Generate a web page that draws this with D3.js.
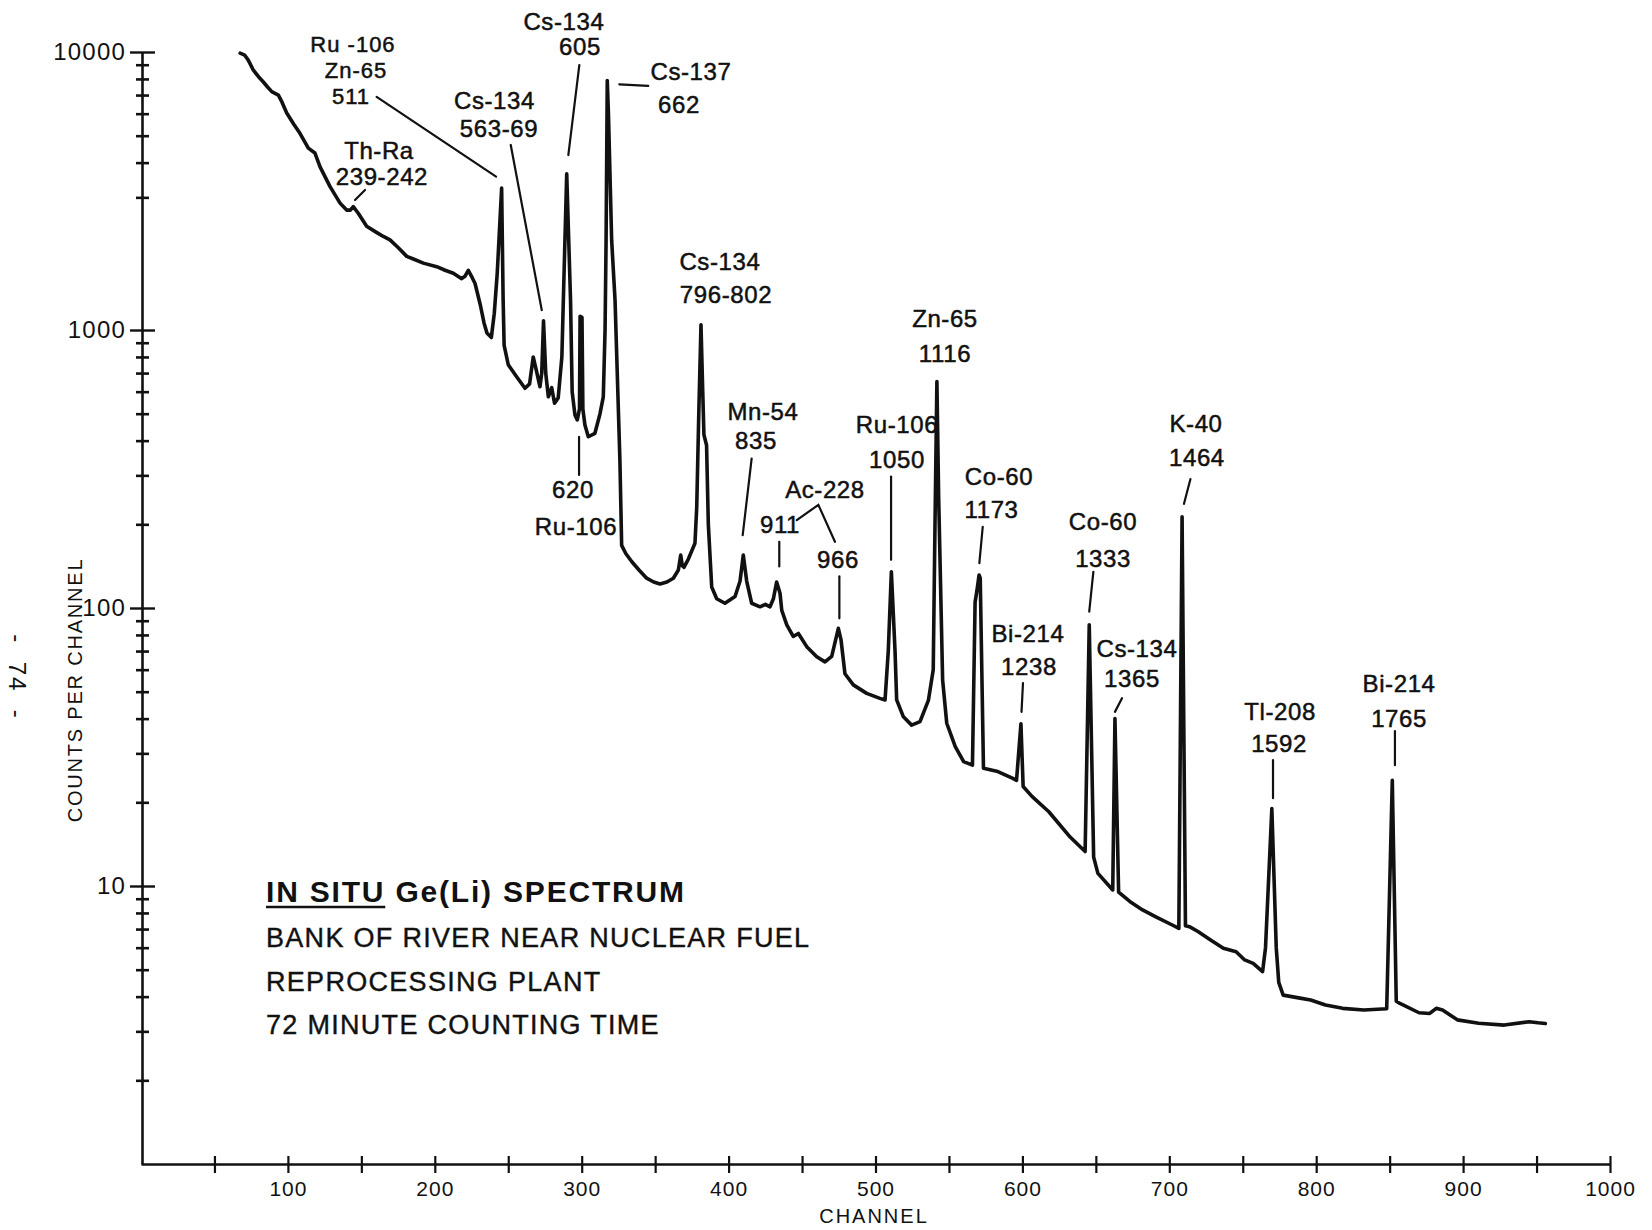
<!DOCTYPE html>
<html><head><meta charset="utf-8">
<script src="https://cdn.jsdelivr.net/npm/d3@7"></script>
<style>
html,body{margin:0;padding:0;background:#fff;}
svg{display:block;}
text{font-family:"Liberation Sans",Arial,sans-serif;fill:#111;}
</style></head><body>
<svg id="chart" width="1652" height="1230"></svg>
<script>
// ---- data ----
const channels = [67.5,70.5,73,76.5,80,83.3,86,89,93.5,96,99.2,104,108.2,113.9,118.4,121.9,128.7,135.5,140,142.5,144.5,147.9,153.6,160,165,169.5,175,180.9,185.4,192.2,201.3,207,212.6,218.3,220.5,222.8,225,227.4,231,233.5,235.5,238.5,240.5,242.5,245.5,246.5,247.2,250,255.7,261.4,264.5,267,269,271.6,272.8,274,275.5,277.3,279.6,281.5,284,286.5,287.5,289.8,292.4,293.5,295.4,297,298.5,298.9,300.2,300.8,302.2,304.5,309,312.5,314.7,315.9,316.6,317.4,318.2,320.4,322.7,326,327.2,330,334,339,344.2,349,353.3,358,362.4,365.8,367.4,368.5,369.6,372.6,377.1,378.3,379.7,381.2,382.4,383.2,385,386.2,388.5,391.9,397.5,404.4,407.8,410,412.3,415.7,421.4,425,428.2,430.5,432.7,435,436.2,439.6,444,447.5,453.2,460,465.6,470.2,474.7,476.5,479.2,484.9,494,503,506.5,508.7,510.8,513.3,514.4,519,524.6,530.3,536,539.3,540.5,541.8,543,545.7,548.5,554.3,560,566,567.8,569,570.5,571.3,573.5,583.3,593.5,596,599,600.5,606.5,618,632.5,642.7,645.5,648.5,651.4,661.5,663,665.5,673.1,681.8,690.5,702,706.5,708.7,711,713.7,719.5,728.1,736.8,745.5,751.3,757.1,763.5,765.5,769.8,772.8,774.5,777.5,789,796.2,806.3,818,832.4,848,851.8,854.5,857,870,877.3,881.7,886,896.1,910.6,928,945,951,956];
const counts = [9900,9750,9350,8600,8150,7800,7500,7200,7000,6600,6030,5500,5100,4510,4330,3860,3280,2860,2700,2700,2780,2630,2360,2250,2170,2110,1980,1840,1800,1740,1690,1640,1600,1530,1560,1640,1560,1470,1230,1060,975,940,1150,1600,3240,1300,880,750,679,617,640,800,720,625,700,1080,700,575,620,545,570,800,1280,3650,1280,600,495,475,520,1120,1110,520,455,413,425,501,575,1000,2100,7900,6000,2100,1280,341,168,157,147,137,128,124,122,124,128,137,155,142,140,150,171,230,500,1045,600,420,385,200,119,108,104,110,125,155,125,104,101,103,101,108,124,113,98,87,79,81,72.6,66.8,64,67,84.5,77,58,52.9,49.3,47.3,46.7,70,135,70,46.7,40.6,37.9,39,46.5,60,200,653,250,55,38.5,31.7,28,27.2,105,115,131.5,128,26.5,25.8,24.4,24,38.3,22.8,21,18.5,15,13.3,87,12.7,11.1,9.68,40,9.5,8.8,8.2,7.76,7.24,7.04,213,7.2,7.14,6.86,6.4,5.97,5.8,5.42,5.27,4.92,6,19,6,4.5,4.05,3.95,3.89,3.73,3.63,3.58,3.62,24,3.85,3.78,3.5,3.48,3.63,3.58,3.3,3.21,3.16,3.25,3.22,3.2];

const xTicks = [50,100,150,200,250,300,350,400,450,500,550,600,650,700,750,800,850,900,950,1000];
const xTickLabels = ["","100","","200","","300","","400","","500","","600","","700","","800","","900","","1000"];
const yMajorTicks = [10,100,1000,10000];
const yMajorLabels = ["10","100","1000","10000"];
const yMinorTicks = [2,3,4,5,6,7,8,9,20,30,40,50,60,70,80,90,200,300,400,500,600,700,800,900,3000,4000,5000,6000,7000,8000,9000];

// peak annotations: text lines anchored at (channel, count)
const peakText = ["Ru -106","Zn-65","511","Th-Ra","239-242","Cs-134","563-69","Cs-134","605","Cs-137","662","Cs-134","796-802","Mn-54","835","Ac-228","911","966","Ru-106","1050","Zn-65","1116","Co-60","1173","Bi-214","1238","Co-60","1333","Cs-134","1365","K-40","1464","Tl-208","1592","Bi-214","1765","620","Ru-106"];
const peakTextChannel = [144.3,146.4,143,162,164,240.6,243.7,287.9,298.8,374.4,366.2,394.1,398.2,423.4,418.6,465.6,435,474.5,514.6,514.6,547.3,547.3,584.1,579,603.8,604.5,654.9,654.9,678,674.6,718.2,718.8,775.4,774.7,856.4,856.4,294.1,296.1];
const peakTextCount = [10000,8060,6500,4120,3325,6240,4945,12000,9750,7925,6035,1644,1250,475,373,249,186,139,426,319,1025,767,277,210,75.5,57.4,191,140,66.6,52,430,324,39.5,30.3,49.9,37.3,249,183];

// leader lines: polylines of [channel, count]
const leaders = [
  [[160.4,6900],[241.7,3560]],
  [[152.5,3190],[145.7,2935]],
  [[251.7,4630],[272.8,1180]],
  [[298.4,8980],[290.9,4260]],
  [[325.6,7650],[345.3,7550]],
  [[298.2,413],[298.2,301]],
  [[415.7,345],[409.6,183]],
  [[446.4,207],[461.1,235],[472.4,173]],
  [[434.5,173],[434.5,141]],
  [[475.4,130],[475.4,91.8]],
  [[510.6,297],[510.6,149]],
  [[573,196],[570.7,145]],
  [[600.4,53.7],[599.4,42.3]],
  [[648.3,135],[645.5,97]],
  [[667.8,47.4],[663,42.3]],
  [[714.4,291],[710,237]],
  [[770.6,28.4],[770.6,20.7]],
  [[853.6,36.1],[853.6,27.2]]
];

const captionLines = ["BANK OF RIVER NEAR NUCLEAR FUEL","REPROCESSING PLANT","72 MINUTE COUNTING TIME"];

// ---- drawing ----
const svg = d3.select('#chart');
const x = d3.scaleLinear().domain([0,1000]).range([141,1610]);
const y = d3.scaleLog().domain([1,10000]).range([1164,52]);

// x axis
const gx = svg.append('g').attr('transform',`translate(0,${y(1)})`)
  .call(d3.axisBottom(x).tickValues(xTicks).tickFormat((d,i)=>xTickLabels[i])
        .tickSizeOuter(0).tickSizeInner(9).tickPadding(8));
gx.select('.domain').attr('stroke','#111').attr('stroke-width',2.4);
gx.selectAll('.tick line').attr('y1',-8).attr('y2',9).attr('stroke','#111').attr('stroke-width',2.2);
gx.selectAll('.tick text').attr('font-size',21).attr('letter-spacing',1)
  .attr('font-family','"Liberation Sans",Arial,sans-serif').attr('fill','#111');

// y axis
const yAll = yMajorTicks.concat(yMinorTicks);
const gy = svg.append('g').attr('transform',`translate(${x(0)+1},0)`)
  .call(d3.axisLeft(y).tickValues(yAll)
        .tickFormat(d=>{const i=yMajorTicks.indexOf(d);return i>=0?yMajorLabels[i]:'';})
        .tickSizeOuter(0).tickSizeInner(12).tickPadding(4));
gy.select('.domain').attr('stroke','#111').attr('stroke-width',2.6);
gy.selectAll('.tick line').each(function(d){
  const major = yMajorTicks.indexOf(d)>=0;
  d3.select(this).attr('x1',major?13:7).attr('x2',major?-12:-6)
    .attr('stroke','#111').attr('stroke-width',major?2.4:2.6);
});
gy.selectAll('.tick text').attr('font-size',24).attr('letter-spacing',1.2)
  .attr('font-family','"Liberation Sans",Arial,sans-serif').attr('fill','#111');

// spectrum
const pts = channels.map((c,i)=>[c,counts[i]]);
svg.append('path').datum(pts)
  .attr('d', d3.line().x(d=>x(d[0])).y(d=>y(d[1])))
  .attr('fill','none').attr('stroke','#111').attr('stroke-width',3.6)
  .attr('stroke-linejoin','round').attr('stroke-linecap','round');

// leader lines
svg.append('g').selectAll('path').data(leaders).join('path')
  .attr('d', d3.line().x(d=>x(d[0])).y(d=>y(d[1])))
  .attr('fill','none').attr('stroke','#111').attr('stroke-width',2.2).attr('stroke-linecap','round');

// peak labels
svg.append('g').selectAll('text').data(peakText).join('text')
  .attr('x',(d,i)=>x(peakTextChannel[i])).attr('y',(d,i)=>y(peakTextCount[i]))
  .attr('text-anchor','middle').attr('font-size',(d,i)=>i<3?22:24).attr('letter-spacing',(d,i)=>i<3?1:0.6)
  .attr('stroke','#111').attr('stroke-width',0.5)
  .text(d=>d);

// caption
const cap = svg.append('g');
const t1 = cap.append('text').attr('x',266).attr('y',902).attr('font-size',30).attr('font-weight','bold')
  .attr('letter-spacing',1.8);
t1.append('tspan').text('IN SITU');
t1.append('tspan').text(' Ge(Li) SPECTRUM');
const bb = t1.select('tspan').node().getComputedTextLength();
cap.append('line').attr('x1',266).attr('x2',266+bb).attr('y1',907).attr('y2',907)
  .attr('stroke','#111').attr('stroke-width',2.6);
cap.selectAll('text.cl').data(captionLines).join('text').attr('class','cl')
  .attr('x',266).attr('y',(d,i)=>947+i*43.5).attr('font-size',27).attr('letter-spacing',1.3)
  .attr('stroke','#111').attr('stroke-width',0.4)
  .text(d=>d);

// axis titles
svg.append('text').attr('x',874).attr('y',1223).attr('text-anchor','middle')
  .attr('font-size',20).attr('letter-spacing',2).text('CHANNEL');
svg.append('text').attr('transform','translate(82,690) rotate(-90)').attr('text-anchor','middle')
  .attr('font-size',20).attr('letter-spacing',1.8).text('COUNTS PER CHANNEL');
svg.append('text').attr('transform','translate(9,677) rotate(90)').attr('text-anchor','middle')
  .attr('font-size',24).attr('letter-spacing',2).attr('xml:space','preserve').text('-  74  -');
</script>
</body></html>
